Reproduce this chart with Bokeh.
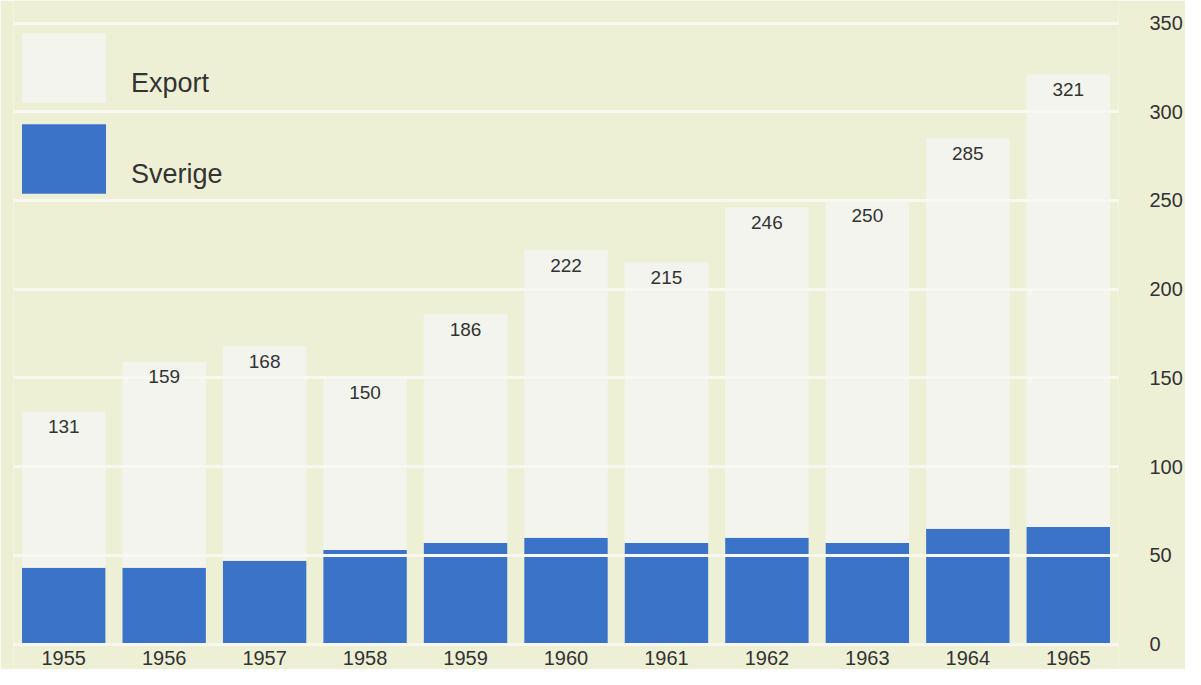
from bokeh.plotting import figure
from bokeh.models import (ColumnDataSource, Range1d, FactorRange, LinearAxis, FixedTicker,
                          Legend, LegendItem, LabelSet)
from bokeh.core.properties import value
from bokeh.embed import file_html
from bokeh.resources import INLINE

# ---- data ----
years = ["1955", "1956", "1957", "1958", "1959", "1960", "1961", "1962", "1963", "1964", "1965"]
totals = [131, 159, 168, 150, 186, 222, 215, 246, 250, 285, 321]
sverige = [43, 43, 47, 53, 57, 60, 57, 60, 57, 65, 66]
y_ticks = [0, 50, 100, 150, 200, 250, 300, 350]

BG = "#EEF0D6"
WHITE_BAR = "#F4F4EF"
BLUE = "#3B73C9"
TEXT = "#333333"
FONT = "Liberation Sans"

src = ColumnDataSource(dict(
    year=years,
    total=totals,
    sverige=sverige,
    zero=[0] * len(years),
    label=[str(t) for t in totals],
))

p = figure(
    width=1185, height=669,
    x_range=FactorRange(factors=years, range_padding=0),
    y_range=Range1d(-14.3, 362.7),
    output_backend="svg", toolbar_location=None,
    x_axis_location=None, y_axis_location=None,
    min_border_left=13, min_border_right=61, min_border_top=0, min_border_bottom=0,
    background_fill_color=BG, border_fill_color=BG, outline_line_color=None,
)

r_sv = p.vbar(x="year", bottom="zero", top="sverige", width=0.83, source=src,
              fill_color=BLUE, line_color=None)
r_ex = p.vbar(x="year", bottom="sverige", top="total", width=0.83, source=src,
              fill_color=WHITE_BAR, line_color=None)

# value labels inside top of bars
p.add_layout(LabelSet(x="year", y="total", text="label", source=src, y_offset=-15,
                      text_align="center", text_baseline="middle",
                      text_font=value(FONT), text_font_size=value("19px"),
                      text_color=value(TEXT)))

# year labels under bars
p.add_layout(LabelSet(x="year", y="zero", text="year", source=src, y_offset=-14,
                      text_align="center", text_baseline="middle",
                      text_font=value(FONT), text_font_size=value("20px"),
                      text_color=value(TEXT)))

# right axis
ax = LinearAxis(ticker=FixedTicker(ticks=y_ticks))
ax.axis_line_color = None
ax.major_tick_line_color = None
ax.minor_tick_line_color = None
ax.major_label_standoff = 25
ax.major_label_text_font = FONT
ax.major_label_text_font_size = "20px"
ax.major_label_text_color = TEXT
p.add_layout(ax, "right")

p.xgrid.visible = False
p.ygrid.ticker = FixedTicker(ticks=y_ticks)
p.ygrid.grid_line_color = "#F8F8F1"
p.ygrid.grid_line_width = 3
p.ygrid.level = "guide"

legend = Legend(
    items=[LegendItem(label="\nExport", renderers=[r_ex]),
           LegendItem(label="\nSverige", renderers=[r_sv])],
    location=(-2, 467),
    glyph_width=105, glyph_height=87, spacing=4,
    padding=0, margin=0, label_standoff=15,
    label_text_font=FONT, label_text_font_size="27px", label_text_color=TEXT,
    background_fill_alpha=0, border_line_color=None,
)
p.add_layout(legend)

open("out.html", "w").write(file_html(p, INLINE))
